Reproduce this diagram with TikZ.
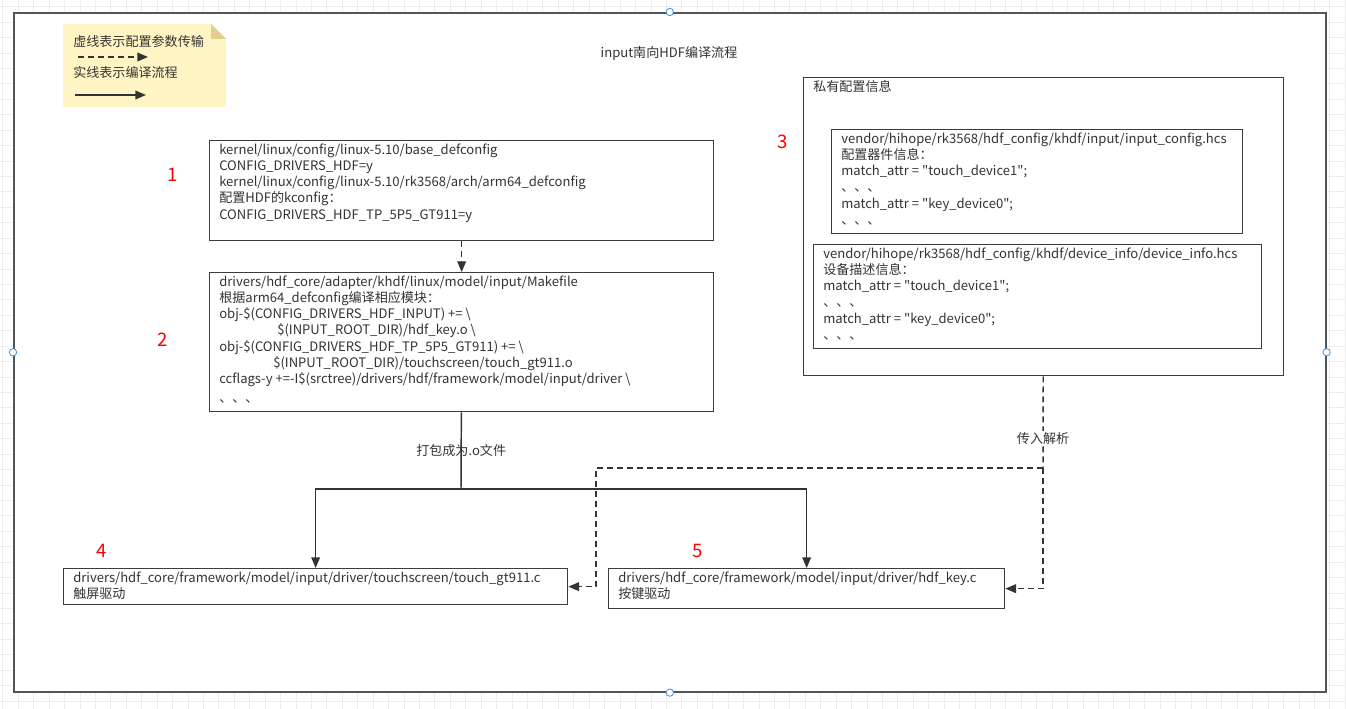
\documentclass[tikz,border=0pt]{standalone}
\usepackage{fontspec}
\setmainfont{Noto Sans CJK SC}
\usetikzlibrary{positioning,arrows.meta}
\definecolor{edgegray}{HTML}{333333}
\definecolor{boxgray}{HTML}{3C3C3C}
\definecolor{framegray}{HTML}{50555A}
\definecolor{textgray}{HTML}{333333}
\definecolor{notefill}{HTML}{FFF4C3}
\definecolor{notefold}{HTML}{E3CF8C}
\definecolor{gridgray}{HTML}{EDEDED}
\definecolor{handleblue}{HTML}{3C8CE7}

\begin{document}
\begin{tikzpicture}[x=0.75pt,y=-0.75pt,>={Triangle[length=8pt,width=6.5pt]},
	every node/.style={inner sep=0pt,text=textgray},
	dim/.style 2 args={minimum width=#1*0.75pt,minimum height=#2*0.75pt},
	box/.style={draw=boxgray,line width=1pt,anchor=north west,fill=white},
	txt/.style={anchor=north west,align=left,font=\fontsize{9.8}{12.2}\selectfont},
	lbl/.style={font=\fontsize{9.8}{9.8}\selectfont},
	num/.style={text=red,font=\fontsize{14}{14}\selectfont},
	flow/.style={draw=edgegray,line width=1.1pt},
	param/.style={flow,dash pattern=on 4.5pt off 3pt},
	handle/.style={circle,draw=handleblue,fill=white,line width=0.6pt,minimum size=5.5pt}]
    \useasboundingbox (0,0) rectangle (1346,709);
    % background grid
    \foreach \gx in {2.9,18.33,...,1346} \draw[gridgray,line width=0.7pt] (\gx,0) -- (\gx,709);
    \foreach \gy in {6.7,22.13,...,709} \draw[gridgray,line width=0.7pt] (0,\gy) -- (1346,\gy);
    % create the nodes
    \node (frame) [box,draw=framegray,line width=1.2pt,dim={1312}{679}] at (13,12) {};
    \foreach \side in {north,south,east,west} \node[handle] at (frame.\side) {};
    % legend note
    \fill[notefill] (63,24) -- (211,24) -- (226,39) -- (226,107) -- (63,107) -- cycle;
    \fill[notefold] (211,24) -- (226,39) -- (211,39) -- cycle;
    \node (legdash) [lbl,anchor=west] at (73,42) {虚线表示配置参数传输};
    \coordinate (dashfrom) at (78,57);
    \coordinate (dashto) at (148,57);
    \node (legflow) [lbl,anchor=west] at (73,73) {实线表示编译流程};
    \coordinate (flowfrom) at (75,95);
    \coordinate (flowto) at (146,95);
    \node (title) [lbl] at (669,53) {input南向HDF编译流程};
    % kconfig
    \node (box1) [box,dim={504}{100}] at (209,140) {};
    \node (text1) [txt,below right=2.5pt and 7.5pt of box1.north west] {kernel/linux/config/linux-5.10/base\_defconfig\\
	CONFIG\_DRIVERS\_HDF=y\\
	kernel/linux/config/linux-5.10/rk3568/arch/arm64\_defconfig\\
	配置HDF的kconfig：\\
	CONFIG\_DRIVERS\_HDF\_TP\_5P5\_GT911=y};
    % makefile
    \node (box2) [box,dim={504}{139}] at (209,272) {};
    \node (text2) [txt,below right=2.5pt and 7.5pt of box2.north west] {drivers/hdf\_core/adapter/khdf/linux/model/input/Makefile\\
	根据arm64\_defconfig编译相应模块：\\
	obj-\$(CONFIG\_DRIVERS\_HDF\_INPUT) += \textbackslash\\
	\hspace*{43.5pt}\$(INPUT\_ROOT\_DIR)/hdf\_key.o \textbackslash\\
	obj-\$(CONFIG\_DRIVERS\_HDF\_TP\_5P5\_GT911) += \textbackslash\\
	\hspace*{40.5pt}\$(INPUT\_ROOT\_DIR)/touchscreen/touch\_gt911.o\\
	ccflags-y +=-I\$(srctree)/drivers/hdf/framework/model/input/driver \textbackslash\\[1.5pt]
	、、、};
    % private config
    \node (box3) [box,dim={480}{298}] at (803,77) {};
    \node (text3) [lbl,anchor=west] at (813,86) {私有配置信息};
    \node (cfg) [box,dim={411}{104}] at (831,129) {};
    \node (textcfg) [txt,below right=2.5pt and 7.5pt of cfg.north west] {vendor/hihope/rk3568/hdf\_config/khdf/input/input\_config.hcs\\
	配置器件信息：\\
	match\_attr = \textquotedbl touch\_device1\textquotedbl;\\
	、、、\\
	match\_attr = \textquotedbl key\_device0\textquotedbl;\\
	、、、};
    \node (dev) [box,dim={448}{104}] at (813,244) {};
    \node (textdev) [txt,below right=2.5pt and 7.5pt of dev.north west] {vendor/hihope/rk3568/hdf\_config/khdf/device\_info/device\_info.hcs\\
	设备描述信息：\\
	match\_attr = \textquotedbl touch\_device1\textquotedbl;\\
	、、、\\
	match\_attr = \textquotedbl key\_device0\textquotedbl;\\
	、、、};
    % drivers
    \node (box4) [box,dim={504}{36}] at (63,568) {};
    \node (text4) [txt,below right=2.5pt and 7.5pt of box4.north west] {drivers/hdf\_core/framework/model/input/driver/touchscreen/touch\_gt911.c\\
	触屏驱动};
    \node (box5) [box,dim={396}{40}] at (608,568) {};
    \node (text5) [txt,below right=2.5pt and 7.5pt of box5.north west] {drivers/hdf\_core/framework/model/input/driver/hdf\_key.c\\
	按键驱动};
    % step numbers
    \node (num1) [num] at (173,175) {1};
    \node (num2) [num] at (163,340) {2};
    \node (num3) [num] at (783,142) {3};
    \node (num4) [num] at (102,551) {4};
    \node (num5) [num] at (698,551) {5};
    \coordinate (fork) at (461,489);
    \coordinate (relay) at (1043,468);
    \coordinate (bend) at (596,468);
    % connect the nodes
    \draw[param,->] (dashfrom) -- (dashto);
    \draw[flow,->] (flowfrom) -- (flowto);
    \draw[param,->] (box1) -- (box2);
    \draw[flow] (box2) -- node[lbl] {打包成为.o文件} (fork);
    \draw[flow,->] (fork) -| (box4);
    \draw[flow,->] (fork) -| (box5);
    \draw[param] (box3) -- node[lbl,pos=0.68,fill=white,inner sep=1pt] {传入解析} (relay);
    \draw[param,->] (relay) |- (box5);
    \draw[param,->] (relay) -- (bend) |- (box4);
\end{tikzpicture}
\end{document}
